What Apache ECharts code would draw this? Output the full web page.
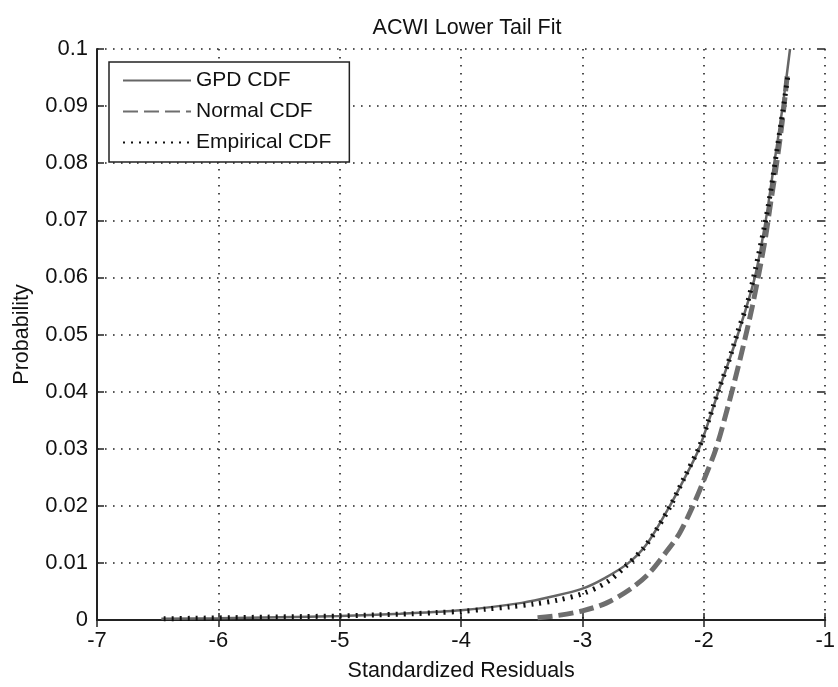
<!DOCTYPE html>
<html>
<head>
<meta charset="utf-8">
<script src="https://cdn.jsdelivr.net/npm/echarts@6/dist/echarts.min.js"></script>
<style>html,body{margin:0;padding:0;background:#fff;}#c{width:838px;height:687px;}</style>
</head>
<body>
<div id="c"></div>
<script>
// ---- data ----
var chartTitle = 'ACWI Lower Tail Fit';
var xName = 'Standardized Residuals';
var yName = 'Probability';
var seriesNames = ['GPD CDF', 'Normal CDF', 'Empirical CDF'];

var gpdX = [-6.47, -6.0, -5.5, -5.0, -4.5, -4.0, -3.5, -3.25, -3.0, -2.82, -2.62, -2.47, -2.28, -2.16, -2.04, -1.88, -1.72, -1.58, -1.49, -1.42, -1.35, -1.29];
var gpdY = [0.0002, 0.0003, 0.0005, 0.0007, 0.0011, 0.0017, 0.003, 0.0041, 0.0055, 0.0073, 0.01, 0.0133, 0.02, 0.0248, 0.03, 0.04, 0.05, 0.06, 0.07, 0.08, 0.09, 0.1];

var normX = [-3.37, -3.2, -3.0, -2.8, -2.6, -2.45, -2.3, -2.2, -2.1, -2.0, -1.9, -1.8, -1.7, -1.6, -1.5, -1.45, -1.4, -1.35, -1.31];
var normY = [0.0004, 0.0008, 0.0016, 0.003, 0.0055, 0.0082, 0.0122, 0.0152, 0.0195, 0.0245, 0.03, 0.0375, 0.0458, 0.055, 0.066, 0.073, 0.08, 0.088, 0.096];

var empX = [-6.45, -6.2, -5.9, -5.6, -5.3, -5.0, -4.7, -4.4, -4.2, -4.0, -3.8, -3.6, -3.4, -3.2, -3.0, -2.8, -2.65, -2.5, -2.4, -2.28, -2.16, -2.04, -1.96, -1.88, -1.8, -1.72, -1.64, -1.58, -1.5, -1.45, -1.4, -1.35, -1.31];
var empY = [0.0002, 0.0003, 0.0004, 0.0005, 0.0006, 0.0007, 0.0009, 0.0011, 0.0013, 0.0015, 0.0019, 0.0023, 0.0028, 0.0035, 0.0046, 0.0066, 0.0093, 0.0125, 0.0155, 0.0198, 0.025, 0.0302, 0.035, 0.0402, 0.045, 0.0505, 0.0556, 0.061, 0.069, 0.075, 0.082, 0.089, 0.095];

var xMin = -7, xMax = -1, xStep = 1;
var yMin = 0, yMax = 0.1, yStep = 0.01;

function pairs(xs, ys) { return xs.map(function (x, i) { return [x, ys[i]]; }); }

var FONT = 'Liberation Sans, Arial, sans-serif';
var chart = echarts.init(document.getElementById('c'), null, { renderer: 'canvas' });
var gridDots = { color: '#222', width: 1.6, type: [1.6, 6.4] };
var tickStyle = { show: true, inside: true, length: 7, lineStyle: { color: '#222', width: 1.5 } };

chart.setOption({
  animation: false,
  backgroundColor: '#fff',
  title: {
    text: chartTitle, left: 462, top: 12, textAlign: 'center',
    textStyle: { fontFamily: FONT, fontSize: 21.5, fontWeight: 'normal', color: '#111' }
  },
  legend: {
    data: seriesNames, orient: 'vertical', left: 109, top: 62,
    backgroundColor: '#fff', borderColor: '#222', borderWidth: 1.5,
    padding: [8, 18, 9, 13], itemWidth: 68, itemHeight: 14, itemGap: 10,
    itemStyle: { opacity: 0 },
    textStyle: { fontFamily: FONT, fontSize: 21, color: '#111', lineHeight: 21 }
  },
  grid: { left: 97, right: 9, top: 49, bottom: 58, containLabel: false },
  xAxis: [{
    type: 'value', min: xMin, max: xMax, interval: xStep,
    name: xName, nameLocation: 'middle', nameGap: 40,
    nameTextStyle: { fontFamily: FONT, fontSize: 21.5, color: '#111' },
    axisLine: { show: true, lineStyle: { color: '#222', width: 2 } },
    axisTick: tickStyle,
    axisLabel: { fontFamily: FONT, fontSize: 22, color: '#111', margin: 10 },
    splitLine: { show: true, lineStyle: gridDots }
  }, {
    type: 'value', min: xMin, max: xMax, interval: xStep, position: 'top',
    axisLine: { show: false }, axisTick: tickStyle,
    axisLabel: { show: false }, splitLine: { show: false }
  }],
  yAxis: [{
    type: 'value', min: yMin, max: yMax, interval: yStep,
    name: yName, nameLocation: 'middle', nameGap: 64, nameRotate: 90,
    nameTextStyle: { fontFamily: FONT, fontSize: 21.5, color: '#111' },
    axisLine: { show: true, lineStyle: { color: '#222', width: 2 } },
    axisTick: tickStyle,
    axisLabel: { fontFamily: FONT, fontSize: 22, color: '#111', margin: 9,
      formatter: function (v) { return v === 0 ? '0' : String(+v.toFixed(2)); } },
    splitLine: { show: true, lineStyle: gridDots }
  }, {
    type: 'value', min: yMin, max: yMax, interval: yStep, position: 'right',
    axisLine: { show: false }, axisTick: tickStyle,
    axisLabel: { show: false }, splitLine: { show: false }
  }],
  series: [{
    name: seriesNames[0], type: 'line', symbol: 'none', smooth: 0.3,
    data: pairs(gpdX, gpdY), z: 3,
    lineStyle: { color: '#666', width: 2.5, type: 'solid' },
    itemStyle: { color: '#666' }
  }, {
    name: seriesNames[1], type: 'line', symbol: 'none', smooth: 0.3,
    data: pairs(normX, normY), z: 2,
    lineStyle: { color: '#6e6e6e', width: 5, type: [15, 6], cap: 'butt' },
    itemStyle: { color: '#6e6e6e' }
  }, {
    name: seriesNames[2], type: 'line', symbol: 'none', smooth: 0.3,
    data: pairs(empX, empY), z: 4,
    lineStyle: { color: '#111', width: 5, type: [2, 6], cap: 'butt' },
    itemStyle: { color: '#111' }
  }]
});
</script>
</body>
</html>
